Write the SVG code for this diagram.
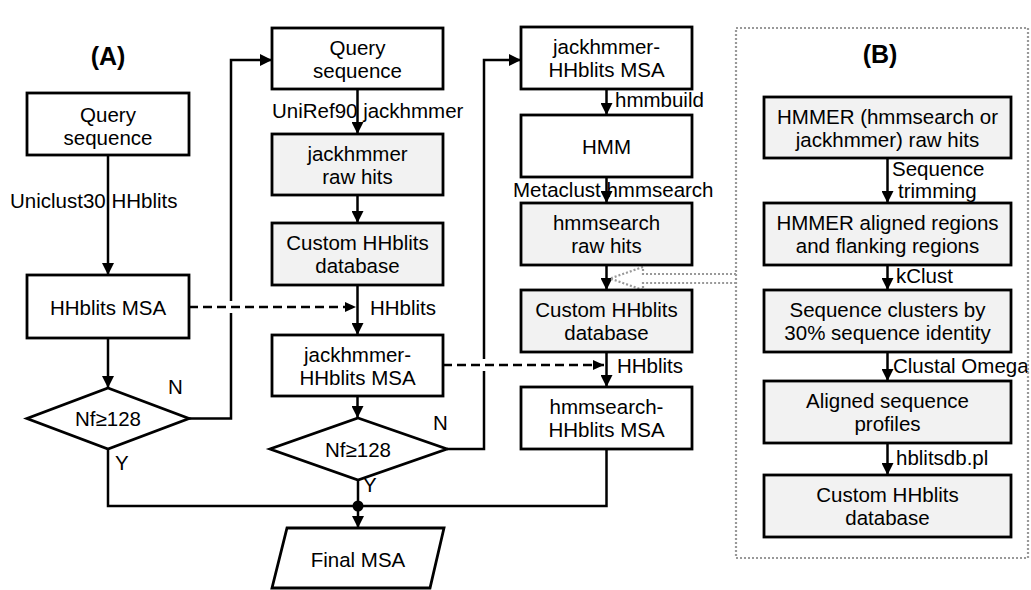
<svg xmlns="http://www.w3.org/2000/svg" width="1031" height="590" viewBox="0 0 1031 590">
<style>
text{font-family:"Liberation Sans",Arial,sans-serif;font-size:20.5px;fill:#000}
.c{text-anchor:middle}
.t{font-weight:bold;font-size:25px}
.box{fill:#fff;stroke:#000;stroke-width:2.8}
.g{fill:#f2f2f2}
.ln{fill:none;stroke:#000;stroke-width:2.5}
.ds{fill:none;stroke:#000;stroke-width:2.5;stroke-dasharray:9 5}
.dot{fill:none;stroke:#999;stroke-width:2.2;stroke-dasharray:2 2}
</style>
<defs>
<marker id="ah" markerUnits="userSpaceOnUse" markerWidth="12" markerHeight="12" refX="12" refY="6" orient="auto">
<path d="M0,0 L12,6 L0,12 z" fill="#000"/>
</marker>
<marker id="ahs" markerUnits="userSpaceOnUse" markerWidth="11" markerHeight="10" refX="11" refY="5" orient="auto">
<path d="M0,0 L11,5 L0,10 z" fill="#000"/>
</marker>
</defs>
<rect width="1031" height="590" fill="#fff"/>

<text class="c t" x="108" y="65">(A)</text>
<text class="c t" x="880" y="63">(B)</text>

<g id="connectors">
<path class="ln" d="M108,155 V275" marker-end="url(#ah)"/>
<path class="ln" d="M108,338 V388" marker-end="url(#ah)"/>
<path class="ln" d="M189,418.5 H231 V313 M231,301 V60 H272" marker-end="url(#ah)"/>
<path class="ln" d="M357.5,89 V134" marker-end="url(#ah)"/>
<path class="ln" d="M357.5,195 V223" marker-end="url(#ah)"/>
<path class="ln" d="M357.5,285 V335" marker-end="url(#ah)"/>
<path class="ds" d="M189,307 H356" marker-end="url(#ahs)"/>
<path class="ln" d="M357.5,396 V418" marker-end="url(#ah)"/>
<path class="ln" d="M447,449 H484 V371 M484,359 V60 H521" marker-end="url(#ah)"/>
<path class="ds" d="M443,365 H604" marker-end="url(#ahs)"/>
<path class="ln" d="M606.5,89 V115" marker-end="url(#ah)"/>
<path class="ln" d="M606.5,177 V203" marker-end="url(#ah)"/>
<path class="ln" d="M606.5,265 V290" marker-end="url(#ah)"/>
<path class="ln" d="M606.5,352 V387" marker-end="url(#ah)"/>
<path class="ln" d="M108,449 V506 H606.5 V449"/>
<path class="ln" d="M358,480 V506"/>
<circle cx="358" cy="506" r="5.5" fill="#000"/>
<path class="ln" d="M358,506 V528" marker-end="url(#ah)"/>
<path class="ln" d="M887.5,158 V203" marker-end="url(#ah)"/>
<path class="ln" d="M887.5,265 V290" marker-end="url(#ah)"/>
<path class="ln" d="M887.5,352 V381" marker-end="url(#ah)"/>
<path class="ln" d="M887.5,443 V475" marker-end="url(#ah)"/>
<path class="dot" d="M736,274 H643 V267 L610,278.5 L643,290 V283 H736"/>
</g>

<g id="labels">
<text x="10" y="208">Uniclust30 HHblits</text>
<text x="272" y="118">UniRef90 jackhmmer</text>
<text x="370" y="315">HHblits</text>
<text x="168" y="394">N</text>
<text x="115" y="470">Y</text>
<text x="433" y="430">N</text>
<text x="363" y="492">Y</text>
<text x="615" y="107">hmmbuild</text>
<text x="513" y="197">Metaclust hmmsearch</text>
<text x="617" y="373">HHblits</text>
<text x="892" y="176">Sequence</text>
<text x="898" y="198">trimming</text>
<text x="896" y="283">kClust</text>
<text x="893" y="373">Clustal Omega</text>
<text x="896" y="465">hblitsdb.pl</text>
</g>

<g id="query1"><rect class="box" x="27" y="93" width="162" height="62"/><text class="c" x="108" y="122">Query</text><text class="c" x="108" y="145">sequence</text></g>
<g id="msa1"><rect class="box" x="27" y="275" width="162" height="63"/><text class="c" x="108" y="315">HHblits MSA</text></g>
<g id="dia1"><polygon class="box" points="108,388 189,418.5 108,449 27,418.5"/><text class="c" x="108" y="426">Nf≥128</text></g>

<g id="query2"><rect class="box" x="272" y="28" width="171" height="61"/><text class="c" x="357.5" y="55">Query</text><text class="c" x="357.5" y="78">sequence</text></g>
<g id="jraw"><rect class="box g" x="272" y="134" width="171" height="61"/><text class="c" x="357.5" y="161">jackhmmer</text><text class="c" x="357.5" y="184">raw hits</text></g>
<g id="cdb1"><rect class="box g" x="272" y="223" width="171" height="62"/><text class="c" x="357.5" y="250">Custom HHblits</text><text class="c" x="357.5" y="273">database</text></g>
<g id="jhmsa"><rect class="box" x="272" y="335" width="171" height="61"/><text class="c" x="357.5" y="362">jackhmmer-</text><text class="c" x="357.5" y="385">HHblits MSA</text></g>
<g id="dia2"><polygon class="box" points="358,418 447,449 358,480 270,449"/><text class="c" x="358" y="457">Nf≥128</text></g>
<g id="final"><polygon class="box" points="287,528 444,528 430,588 272,588"/><text class="c" x="358" y="567">Final MSA</text></g>

<g id="jh2"><rect class="box" x="521" y="27" width="171" height="62"/><text class="c" x="606.5" y="54">jackhmmer-</text><text class="c" x="606.5" y="77">HHblits MSA</text></g>
<g id="hmm"><rect class="box" x="521" y="115" width="171" height="62"/><text class="c" x="606.5" y="154">HMM</text></g>
<g id="hraw"><rect class="box g" x="521" y="203" width="171" height="62"/><text class="c" x="606.5" y="230">hmmsearch</text><text class="c" x="606.5" y="253">raw hits</text></g>
<g id="cdb2"><rect class="box g" x="521" y="290" width="171" height="62"/><text class="c" x="606.5" y="317">Custom HHblits</text><text class="c" x="606.5" y="340">database</text></g>
<g id="hhmsa"><rect class="box" x="521" y="387" width="171" height="62"/><text class="c" x="606.5" y="414">hmmsearch-</text><text class="c" x="606.5" y="437">HHblits MSA</text></g>

<g id="panelB"><rect class="dot" x="736" y="28" width="292" height="530"/></g>
<g id="b1"><rect class="box g" x="764" y="97" width="247" height="61"/><text class="c" x="887.5" y="124">HMMER (hmmsearch or</text><text class="c" x="887.5" y="147">jackhmmer) raw hits</text></g>
<g id="b2"><rect class="box g" x="764" y="203" width="247" height="62"/><text class="c" x="887.5" y="230">HMMER aligned regions</text><text class="c" x="887.5" y="253">and flanking regions</text></g>
<g id="b3"><rect class="box g" x="764" y="290" width="247" height="62"/><text class="c" x="887.5" y="317">Sequence clusters by</text><text class="c" x="887.5" y="340">30% sequence identity</text></g>
<g id="b4"><rect class="box g" x="764" y="381" width="247" height="62"/><text class="c" x="887.5" y="408">Aligned sequence</text><text class="c" x="887.5" y="431">profiles</text></g>
<g id="b5"><rect class="box g" x="764" y="475" width="247" height="62"/><text class="c" x="887.5" y="502">Custom HHblits</text><text class="c" x="887.5" y="525">database</text></g>
</svg>
